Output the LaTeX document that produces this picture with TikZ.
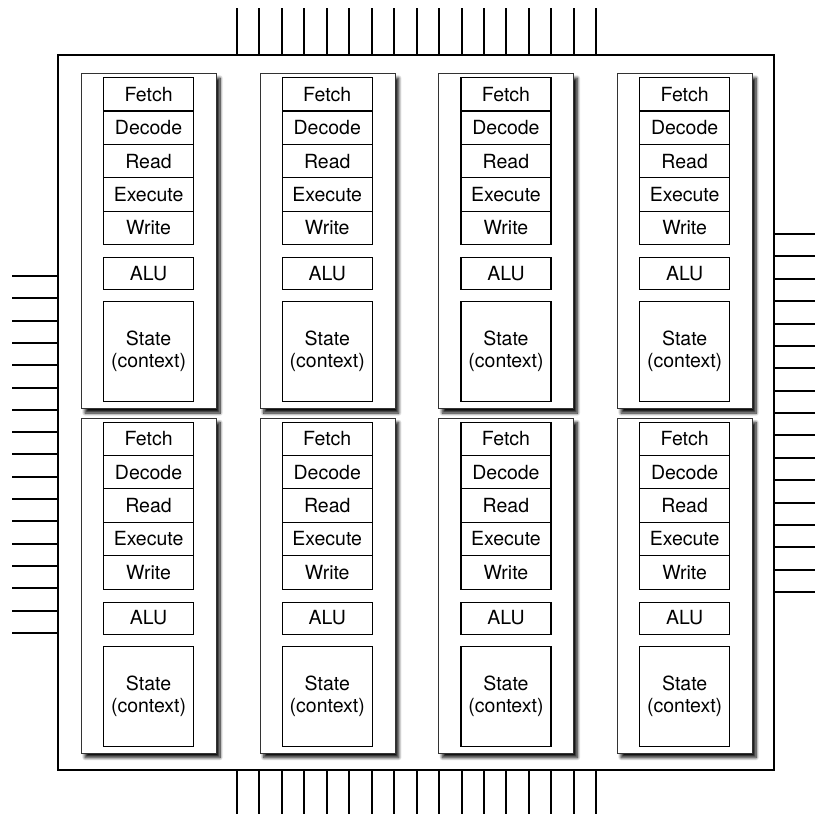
\documentclass[tikz,border=0pt]{standalone}
\usepackage{fontspec}
\setmainfont{TeX Gyre Heros}
\usetikzlibrary{shadows.blur}
\begin{document}
\begin{tikzpicture}[x=1pt,y=-1pt,
  chip/.style={draw=black, line width=2.4pt},
  pin/.style={draw=black, line width=2pt},
  core/.style={draw=black!80, line width=1pt, fill=white, anchor=north west,
    minimum width=135pt, minimum height=335pt, inner sep=0pt,
    blur shadow={shadow xshift=3.5pt, shadow yshift=-4.5pt, shadow blur radius=3pt, shadow blur steps=10, shadow opacity=95}},
  stage/.style={draw=black, line width=1.1pt, minimum width=90pt, inner sep=0pt,
    anchor=north west, font=\fontsize{19.5}{22}\selectfont, align=center}
]
\useasboundingbox (0,0) rectangle (815,814);
\draw[chip] (58,55) rectangle (774,770);
\foreach \i in {0,...,16} {
  \draw[pin] (237+22.45*\i,8) -- (237+22.45*\i,55);
  \draw[pin] (237+22.45*\i,770) -- (237+22.45*\i,814);
  \draw[pin] (12,276+22.3*\i) -- (58,276+22.3*\i);
  \draw[pin] (774,234+22.375*\i) -- (815,234+22.375*\i);
}
\foreach \c in {0,...,3} {
  \foreach \r in {0,1} {
    \pgfmathsetmacro{\xx}{81+178.7*\c}
    \pgfmathsetmacro{\yy}{73+344.5*\r}
    \node[core] (core-\c-\r) at (\xx,\yy) {};
    \node[stage, minimum height=33.4pt] (fetch-\c-\r) at (\xx+22,\yy+4) {Fetch};
    \node[stage, minimum height=33.4pt] (decode-\c-\r) at (\xx+22,\yy+37.4) {Decode};
    \node[stage, minimum height=33.4pt] (read-\c-\r) at (\xx+22,\yy+70.8) {Read};
    \node[stage, minimum height=33.4pt] (exec-\c-\r) at (\xx+22,\yy+104.2) {Execute};
    \node[stage, minimum height=33.4pt] (write-\c-\r) at (\xx+22,\yy+137.6) {Write};
    \node[stage, minimum height=32pt] (alu-\c-\r) at (\xx+22,\yy+184) {ALU};
    \node[stage, minimum height=100pt] (state-\c-\r) at (\xx+22,\yy+228) {State\\(context)};
  }
}
\end{tikzpicture}
\end{document}
